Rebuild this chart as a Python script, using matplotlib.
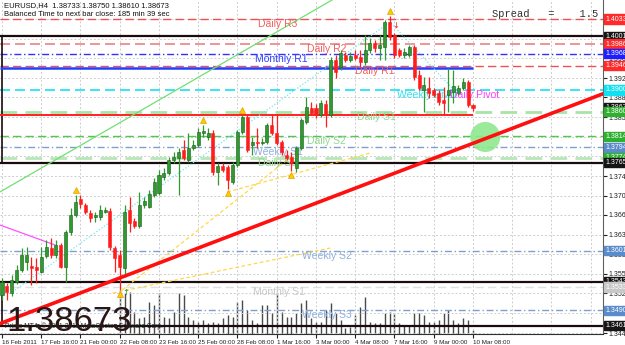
import matplotlib
matplotlib.use('Agg')
import matplotlib.pyplot as plt
import matplotlib.transforms as mtransforms
from matplotlib.patches import Ellipse, Rectangle
from matplotlib import font_manager

plt.rcParams['font.family'] = ['Liberation Sans', 'DejaVu Sans']

# ---------------- data ----------------
opens = [1.3519, 1.3536, 1.3523, 1.3543, 1.3565, 1.3580, 1.3573, 1.3571, 1.3562, 1.3591,
         1.3606, 1.3593, 1.3612, 1.3571, 1.3636, 1.3668, 1.3698, 1.3687, 1.3671, 1.3664,
         1.3664, 1.3673, 1.3675, 1.3606, 1.3593, 1.3569, 1.3677, 1.3657, 1.3647, 1.3687,
         1.3683, 1.3705, 1.3709, 1.3739, 1.3746, 1.3770, 1.3774, 1.3789, 1.3770, 1.3793,
         1.3798, 1.3821, 1.3813, 1.3821, 1.3748, 1.3759, 1.3757, 1.3729, 1.3761, 1.3822,
         1.3850, 1.3798, 1.3804, 1.3802, 1.3804, 1.3836, 1.3821, 1.3804, 1.3780, 1.3776,
         1.3755, 1.3793, 1.3841, 1.3867, 1.3867, 1.3854, 1.3875, 1.3854, 1.3957, 1.3944,
         1.3966, 1.3957, 1.3966, 1.3962, 1.3953, 1.3975, 1.3988, 1.3979, 1.3981, 1.4027,
         1.4003, 1.3975, 1.3966, 1.3966, 1.3981, 1.3929, 1.3901, 1.3904, 1.3901, 1.3895,
         1.3882, 1.3891, 1.3897, 1.3895, 1.3904, 1.3916, 1.38733]
closes = [1.3543, 1.3524, 1.3547, 1.3565, 1.3593, 1.3593, 1.3569, 1.3565, 1.3590, 1.3608,
          1.3593, 1.3612, 1.3571, 1.3636, 1.3668, 1.3692, 1.3688, 1.3673, 1.3662, 1.3668,
          1.3677, 1.3677, 1.3608, 1.3588, 1.3571, 1.3673, 1.3653, 1.3647, 1.3687, 1.3694,
          1.3707, 1.3729, 1.3742, 1.3746, 1.3770, 1.3776, 1.3785, 1.3774, 1.3793, 1.3798,
          1.3822, 1.3824, 1.3821, 1.3748, 1.3759, 1.3752, 1.3733, 1.3761, 1.3822, 1.3850,
          1.3789, 1.3804, 1.3802, 1.3804, 1.3836, 1.3821, 1.3802, 1.3785, 1.3774, 1.3765,
          1.3793, 1.3845, 1.3869, 1.3858, 1.3854, 1.3876, 1.3854, 1.3957, 1.3934, 1.3970,
          1.3957, 1.3964, 1.3960, 1.3953, 1.3975, 1.3988, 1.3979, 1.3985, 1.4027, 1.3999,
          1.3966, 1.3966, 1.3972, 1.3981, 1.3925, 1.3904, 1.3910, 1.3895, 1.3891, 1.3878,
          1.3876, 1.3901, 1.3908, 1.3904, 1.3916, 1.3873, 1.38673]
highs = [1.3551, 1.3541, 1.3556, 1.3575, 1.3606, 1.3608, 1.3590, 1.3588, 1.3608, 1.3621,
         1.3625, 1.3621, 1.3616, 1.3640, 1.3681, 1.3705, 1.3705, 1.3690, 1.3677, 1.3673,
         1.3687, 1.3683, 1.3681, 1.3610, 1.3603, 1.3687, 1.3701, 1.3662, 1.3711, 1.3701,
         1.3714, 1.3737, 1.3752, 1.3755, 1.3776, 1.3785, 1.3793, 1.3808, 1.3821, 1.3808,
         1.3830, 1.3836, 1.3830, 1.3826, 1.3765, 1.3765, 1.3761, 1.3767, 1.3826, 1.3854,
         1.3854, 1.3813, 1.3830, 1.3811, 1.3839, 1.3854, 1.3854, 1.3808, 1.3789, 1.3785,
         1.3796, 1.3849, 1.3888, 1.3878, 1.3875, 1.3882, 1.3882, 1.3962, 1.3966, 1.3975,
         1.3972, 1.3972, 1.3975, 1.3975, 1.4003, 1.3998, 1.3994, 1.4003, 1.4031, 1.4039,
         1.4007, 1.3979, 1.3979, 1.3985, 1.3985, 1.3938, 1.3925, 1.3925, 1.3904, 1.3901,
         1.3906, 1.3942, 1.3938, 1.3910, 1.3923, 1.3919, 1.38750]
lows = [1.3510, 1.3510, 1.3517, 1.3539, 1.3562, 1.3565, 1.3538, 1.3541, 1.3560, 1.3588,
        1.3588, 1.3588, 1.3569, 1.3543, 1.3631, 1.3664, 1.3681, 1.3670, 1.3655, 1.3655,
        1.3659, 1.3671, 1.3603, 1.3562, 1.3528, 1.3552, 1.3636, 1.3644, 1.3644, 1.3681,
        1.3681, 1.3701, 1.3705, 1.3733, 1.3742, 1.3765, 1.3705, 1.3770, 1.3767, 1.3789,
        1.3795, 1.3813, 1.3808, 1.3742, 1.3724, 1.3748, 1.3716, 1.3726, 1.3757, 1.3819,
        1.3785, 1.3780, 1.3793, 1.3798, 1.3800, 1.3817, 1.3798, 1.3780, 1.3770, 1.3750,
        1.3748, 1.3789, 1.3837, 1.3854, 1.3848, 1.3851, 1.3832, 1.3851, 1.3923, 1.3938,
        1.3953, 1.3953, 1.3957, 1.3944, 1.3947, 1.3970, 1.3972, 1.3957, 1.3957, 1.3994,
        1.3960, 1.3962, 1.3960, 1.3962, 1.3919, 1.3901, 1.3860, 1.3886, 1.3888, 1.3873,
        1.3854, 1.3860, 1.3876, 1.3891, 1.3901, 1.3869, 1.38610]

volume_first_bar = 24
volumes = [4400, 4100, 4200, 2200, 1600, 1700, 3200, 2900, 4100, 1700,
           1600, 2200, 4100, 3900, 1700, 1400, 1200, 1400, 1100, 1200,
           1100, 1600, 1900, 1700, 3200, 3400, 2400, 1400, 1100, 2900,
           2900, 2100, 4100, 2200, 1700, 1700, 2100, 3100, 3400, 1600,
           1200, 1200, 2400, 3100, 2100, 1400, 600, 700, 1900, 2700,
           3700, 1200, 1100, 1100, 2100, 2200, 2100, 1100, 900, 900,
           2100, 2100, 1900, 1200, 1200, 1400, 2100, 2400, 1400, 1100,
           1600, 1400, 400]

date_label_bars = [0, 8, 16, 24, 32, 40, 48, 56, 64, 72, 80, 88, 96]
date_labels = ['16 Feb 2011', '17 Feb 16:00', '21 Feb 00:00', '22 Feb 08:00', '23 Feb 16:00',
               '25 Feb 00:00', '28 Feb 08:00', '1 Mar 16:00', '3 Mar 00:00', '4 Mar 08:00',
               '7 Mar 16:00', '9 Mar 00:00', '10 Mar 08:00']
price_ticks = [1.34480, 1.34850, 1.35220, 1.35580, 1.35950, 1.36310, 1.36680, 1.37040,
               1.37400, 1.37770, 1.38130, 1.38500, 1.38870, 1.39230, 1.39600, 1.39960, 1.40330]

# pivot levels: name, price
level_names = ['Daily R3', 'Daily R2', 'Monthly R1', 'Daily R1', 'Weekly Pivot', 'Daily S1',
               'Daily S2', 'Weekly S1', 'Daily S3', 'Weekly S2', 'Monthly S1', 'Weekly S3']
level_prices = [1.40330, 1.39864, 1.39682, 1.39463, 1.39008, 1.38605,
                1.38148, 1.37944, 1.37744, 1.36013, 1.35337, 1.34904]
daily_pivot_price = 1.39008
rect_prices = [1.40011, 1.37650, 1.35433, 1.34617]   # black rectangle borders
blue_line_price = 1.39418
red_line_price = 1.38551
current_price = 1.38673

trend_red = [(0, 1.3467), (120, 1.3885)]
trend_green = [(0, 1.3713), (60, 1.4030)]
zigzag_cyan = [(2.65, 1.35281), (79.1, 1.40274), (91.7, 1.39045)]
yellow_lines = [[(22.6, 1.35226), (66.9, 1.36064)],
                [(24.5, 1.35281), (60.7, 1.37890)],
                [(45.9, 1.37107), (75.0, 1.37833)]]
magenta_line = [(-0.41, 1.36492), (10.8, 1.36120)]
fractal_high_bars = [15, 41, 49, 79]
fractal_low_bars = [24, 46, 59]
target_circle = (98.5, 1.38132)

# ---------------- figure ----------------
fig = plt.figure(figsize=(6.25, 3.45), dpi=100)
fig.patch.set_facecolor('white')
ax = fig.add_axes([0, 11 / 345, 603 / 625, 334 / 345])
ax2 = ax.twinx()
ax.set_zorder(2)
ax2.set_zorder(1)
ax.patch.set_visible(False)

xmin, xmax = -0.408, 122.5
ymin, ymax = 1.34462, 1.40684
ax.set_xlim(xmin, xmax)
ax.set_ylim(ymin, ymax)
ax2.set_xlim(xmin, xmax)
ax2.set_ylim(0, 33400)
ax2.axis('off')

# grid
for gx in range(0, 123, 8):
    ax.axvline(gx, color='#cdcdcd', lw=0.7, ls=(0, (2, 2)), zorder=0)
for gy in price_ticks:
    ax.axhline(gy, color='#cdcdcd', lw=0.7, ls=(0, (2, 2)), zorder=0)

# volumes
vol_x = list(range(volume_first_bar, volume_first_bar + len(volumes)))
ax2.vlines(vol_x, 0, volumes, color='#4a4a4a', lw=1.0)

# level lines
level_styles = {
    'Daily R3': ('#f05050', (0, (6, 3)), 1.0),
    'Daily R2': ('#f08080', (0, (6, 3)), 1.2),
    'Monthly R1': ('#3030ff', (0, (5, 2, 1, 2)), 1.0),
    'Daily R1': ('#f05050', (0, (6, 3)), 1.0),
    'Weekly Pivot': ('#18e0f0', (0, (6, 3)), 1.2),
    'Daily S1': ('#a8e4a8', (0, (6, 3)), 2.0),
    'Daily S2': ('#50c850', (0, (6, 3)), 1.0),
    'Weekly S1': ('#7fa0cc', (0, (5, 2, 1, 2)), 1.0),
    'Daily S3': ('#b4e8b4', (0, (6, 3)), 2.0),
    'Weekly S2': ('#7fa0cc', (0, (5, 2, 1, 2)), 1.0),
    'Monthly S1': ('#e0e0e0', (0, (6, 3)), 1.0),
    'Weekly S3': ('#7fa0cc', (0, (5, 2, 1, 2)), 1.0),
}
for name, p in zip(level_names, level_prices):
    c, ls, lw = level_styles[name]
    ax.axhline(p, color=c, ls=ls, lw=lw, zorder=1)
for p in rect_prices:
    ax.axhline(p, color='#1a0c0c', lw=1.6, zorder=1)
ax.vlines(0, rect_prices[1], rect_prices[0], color='#1a0c0c', lw=1.2, zorder=1)
ax.vlines(0, rect_prices[3], rect_prices[2], color='#1a0c0c', lw=1.2, zorder=1)
ax.hlines(blue_line_price, xmin, len(opens) - 1, color='#2040ff', lw=1.8, zorder=1)
ax.hlines(red_line_price, xmin, len(opens) - 1, color='#ff2020', lw=1.4, zorder=1)

# level texts
text_pos = {
    'Daily R3': (52.2, '#f06060'), 'Daily R2': (62.2, '#f06060'), 'Monthly R1': (51.6, '#3040ff'),
    'Daily R1': (72.0, '#f06060'), 'Weekly Pivot': (80.5, '#30e0f0'), 'Daily S1': (72.4, '#90d890'),
    'Daily S2': (62.2, '#90d890'), 'Weekly S1': (51.2, '#8fb0dd'), 'Daily S3': (52.2, '#90d890'),
    'Weekly S2': (61.1, '#8fb0dd'), 'Monthly S1': (51.2, '#c8c8c8'), 'Weekly S3': (61.1, '#8fb0dd'),
}
for name, p in zip(level_names, level_prices):
    xi, c = text_pos[name]
    ax.text(xi, p, name, color=c, fontsize=7.5, va='top', ha='left', zorder=3)
ax.text(91.3, daily_pivot_price, 'Daily Pivot', color='#ff40ff', fontsize=7.5, va='top', ha='left', zorder=3)

# trend lines
ax.axline(trend_green[0], trend_green[1], color='#70e070', lw=0.9, zorder=1)
ax.plot([p[0] for p in zigzag_cyan], [p[1] for p in zigzag_cyan], color='#70e8f0', lw=0.9,
        ls=(0, (1, 1.5)), zorder=1)
for seg in yellow_lines:
    ax.plot([p[0] for p in seg], [p[1] for p in seg], color='#ffd84a', lw=0.9, ls=(0, (3, 2)), zorder=1)
ax.plot([p[0] for p in magenta_line], [p[1] for p in magenta_line], color='#ff50ff', lw=0.9, zorder=1)

ax.add_patch(Ellipse(target_circle, 30 / 4.906, 30 * 0.0001863, facecolor='#8ee88e',
                     edgecolor='none', alpha=0.9, zorder=2))

# candles
bw = 0.62
for i, (o, h, l, c) in enumerate(zip(opens, highs, lows, closes)):
    up = c >= o
    col = '#2f9a2f' if up else '#ff1c1c'
    ax.vlines(i, l, h, color=col, lw=0.9, zorder=4)
    bot = min(o, c)
    ht = max(abs(c - o), 0.00008)
    ax.add_patch(Rectangle((i - bw / 2, bot), bw, ht, facecolor=col,
                           edgecolor='#1c5c1c' if up else '#ff1c1c', lw=0.4, zorder=5))

for i in fractal_high_bars:
    ax.plot(i, highs[i] + 0.0009, marker='^', ms=5, color='#ffcc00', mec='#e0a000', mew=0.5, zorder=6)
for i in fractal_low_bars:
    ax.plot(i, lows[i] - 0.0007, marker='^', ms=5, color='#ffcc00', mec='#e0a000', mew=0.5, zorder=6)
ax.text(80.2, highs[80] + 0.0005, '\u2193', color='#ff2020', fontsize=6, ha='center', va='bottom',
        family='DejaVu Sans', zorder=6)
ax.text(25.2, lows[25] - 0.0020, '\u2191', color='#20a020', fontsize=6, ha='center', va='top',
        family='DejaVu Sans', zorder=6)

# big red trend line
ax.axline(trend_red[0], trend_red[1], color='#ff1010', lw=2.6, zorder=7)

# axes styling
for s in ['left', 'top']:
    ax.spines[s].set_visible(False)
ax.spines['right'].set_color('#606060')
ax.spines['bottom'].set_color('#303030')
ax.yaxis.tick_right()
ax.set_yticks(price_ticks)
ax.set_yticklabels(['%.5f' % t for t in price_ticks])
ax.tick_params(axis='y', length=3, pad=1, labelsize=5, colors='#202020')
ax.set_xticks(date_label_bars)
ax.set_xticklabels(date_labels, ha='left')
ax.tick_params(axis='x', length=3, pad=1, labelsize=4.5, colors='#202020')

# right price boxes
box_prices = [1.40330, 1.40011, 1.39864, 1.39682, 1.39463, 1.39008, current_price, 1.38605,
              1.38148, 1.37944, 1.37744, 1.37650, 1.36013, 1.35433, 1.35337, 1.34904, 1.34617]
box_colors = ['#ff2a2a', '#151515', '#ff2a2a', '#1e1eff', '#ff2a2a', '#10e0f0', '#151515', '#30b030',
              '#30b030', '#5a8ccc', '#30b030', '#151515', '#5a8ccc', '#151515', '#c8c8c8', '#5a8ccc',
              '#151515']
trans = mtransforms.blended_transform_factory(fig.transFigure, ax.transData)
for p, c in zip(box_prices, box_colors):
    ax.text(605 / 625, p, '%.5f' % p, transform=trans, fontsize=5, color='white', va='center',
            ha='left', clip_on=False, zorder=10,
            bbox=dict(boxstyle='square,pad=0.15', fc=c, ec=c))

# header texts
fig.text(4 / 625, 1 - 6 / 345, 'EURUSD,H4  1.38733 1.38750 1.38610 1.38673', fontsize=5.5,
         va='center', color='#101010')
fig.text(4 / 625, 1 - 14 / 345, 'Balanced Time to next bar close: 185 min 39 sec', fontsize=5.5,
         va='center', color='#101010')
fig.text(492 / 625, 1 - 14 / 345, 'Spread   =    1.5', family=['Liberation Mono', 'DejaVu Sans Mono'],
         fontsize=7.5, va='center', color='#303030')

# big price
names = {f.name for f in font_manager.fontManager.ttflist}
if 'Liberation Sans Narrow' in names:
    fig.text(7 / 625, 1 - 331 / 345, '1.38673', family='Liberation Sans Narrow', fontsize=30,
             color='#2a1715', va='baseline', zorder=20)
else:
    fig.text(6 / 625, 1 - 331 / 345, '1.38673', fontsize=25, color='#2a1715', va='baseline', zorder=20)
fig.text(5 / 625, 1 - 326 / 345, 'Primo MT4, \u00a9 2001-2011 MetaQuotes Software Corp.', fontsize=4.8,
         va='center', color='#202020', zorder=21)

fig.savefig('out.png', dpi=100)
